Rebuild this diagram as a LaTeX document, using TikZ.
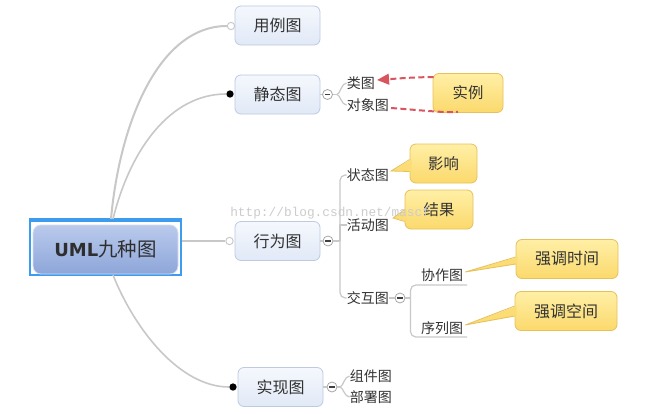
\documentclass[tikz,border=0pt]{standalone}
\usepackage{fontspec}
\newfontfamily\cjk{Noto Sans CJK SC}
\newfontfamily\umlf{DejaVu Sans}
\newfontfamily\wmf{Liberation Mono}
\usetikzlibrary{arrows.meta,calc}
\definecolor{txt}{HTML}{333333}
\definecolor{lineg}{HTML}{C8C8C8}
\definecolor{topicdraw}{HTML}{BCCAE2}
\definecolor{topictop}{HTML}{F5F8FD}
\definecolor{topicbot}{HTML}{E1E9F7}
\definecolor{calldraw}{HTML}{E6C15A}
\definecolor{calltop}{HTML}{FFEFA6}
\definecolor{callfill}{HTML}{FBD96C}
\definecolor{relred}{HTML}{D9545E}
\definecolor{frameblue}{HTML}{3D9BF0}
\definecolor{roottop}{HTML}{BACAEC}
\definecolor{rootbot}{HTML}{8DA6D9}
\definecolor{rootdraw}{HTML}{D4DEF2}
\tikzset{
  topic/.style={draw=topicdraw, line width=0.6pt, rounded corners=4.5pt,
    top color=topictop, bottom color=topicbot, minimum width=63.75pt,
    minimum height=29.25pt, inner sep=0pt, text=txt, font=\cjk\fontsize{12pt}{14pt}\selectfont},
  leaf/.style={inner sep=0pt, anchor=west, text=txt, font=\cjk\fontsize{10.5pt}{12pt}\selectfont},
  callbox/.style={draw=calldraw, line width=0.6pt, rounded corners=4.5pt,
    top color=calltop, bottom color=callfill, inner sep=0pt,
    minimum height=29.25pt, text=txt, font=\cjk\fontsize{11.5pt}{14pt}\selectfont},
  branch/.style={draw=lineg, line width=0.9pt},
  conn/.style={draw=lineg, line width=1.2pt},
  opendot/.style={circle, draw=lineg, fill=white, line width=0.7pt, minimum size=5.5pt, inner sep=0pt},
  fulldot/.style={circle, fill=black, minimum size=5.5pt, inner sep=0pt},
  collapse/.style={circle, draw=gray!70, fill=white, line width=0.6pt, minimum size=7.5pt, inner sep=0pt,
    path picture={\draw[black!75, line width=0.9pt] ([xshift=-2pt]path picture bounding box.center) -- ([xshift=2pt]path picture bounding box.center);}},
  rel/.style={draw=relred, line width=1.5pt, dash pattern=on 4.5pt off 2.5pt},
  pointer/.style={fill=callfill!85!calltop, draw=none},
  pedge/.style={draw=calldraw, line width=0.6pt}
}
\begin{document}
\begin{tikzpicture}[x=0.75pt,y=-0.75pt]
\useasboundingbox[fill=white] (0,0) rectangle (650,414);

% root
\node[draw=frameblue, line width=0.9pt, minimum width=113.25pt, minimum height=42pt, inner sep=0pt] (rootframe) at (105.5,247) {};
\fill[frameblue] (rootframe.north west) rectangle ($(rootframe.north east)+(0,4)$);
\node[rounded corners=6pt, draw=rootdraw, line width=0.6pt, top color=roottop, bottom color=rootbot,
  minimum width=108.75pt, minimum height=36.75pt, inner sep=0pt, text=black!82] (root) at (105.5,249.5)
  {{\umlf\bfseries\fontsize{13.5pt}{16pt}\selectfont UML}{\cjk\fontsize{14.6pt}{16pt}\selectfont 九种图}};

% main topics
\node[topic] (yl) at (277.5,25.5) {用例图};
\node[topic] (jt) at (277.5,94.5) {静态图};
\node[topic] (xw) at (277.5,241) {行为图};
\node[topic] (sx) at (280.5,387) {实现图};

% connector end markers
\node[opendot] (d1) at (231,26) {};
\node[fulldot] (d2) at (230,94) {};
\node[opendot] (d3) at (229.5,241) {};
\node[fulldot] (d4) at (233,387) {};

\coordinate (rt1) at (111,219);
\coordinate (rt2) at (113,219);
\coordinate (rb) at (113,275);
\draw[conn, line width=1.5pt] (rt1) .. controls (120,120) and (160,26) .. (d1.west);
\draw[conn] (rt2) .. controls (130,150) and (170,94) .. (d2.west);
\draw[conn] (rootframe.east |- d3) -- (d3.west);
\draw[conn] (rb) .. controls (135,330) and (180,387) .. (d4.west);

% collapse markers
\node[collapse] (c1) at (327.5,94.5) {};
\node[collapse] (c2) at (328,241) {};
\node[collapse] (c3) at (400,298) {};
\node[collapse] (c4) at (332,387) {};
\draw[branch] (jt.east) -- (c1.west);
\draw[branch] (xw.east) -- (c2.west);
\draw[branch] (sx.east) -- (c4.west);

% static children
\node[leaf] (lt) at (346.5,83) {类图};
\node[leaf] (dx) at (346.5,105) {对象图};
\coordinate (b1) at (337,94.5);
\draw[branch] (c1.east) -- (b1);
\draw[branch] (b1) .. controls +(3,0) and +(-5,0) .. (lt.west);
\draw[branch] (b1) .. controls +(3,0) and +(-5,0) .. (dx.west);

% behaviour children
\node[leaf] (zt) at (346.5,175) {状态图};
\node[leaf] (hd) at (346.5,225) {活动图};
\node[leaf] (jh) at (346.5,298) {交互图};
\coordinate (b2) at (340,241);
\draw[branch] (c2.east) -- (b2);
\draw[branch, rounded corners=4pt] (zt.west) -| (b2) |- (jh.west);
\draw[branch] (b2) |- (hd.west);
\draw[branch] (jh.east) -- (c3.west);

% interaction children
\node[leaf, anchor=center] (xz) at (442,275) {协作图};
\node[leaf, anchor=center] (xl) at (442,328) {序列图};
\coordinate (b3) at (410.5,298);
\coordinate (u1) at (467,285);
\coordinate (u2) at (467,337);
\draw[branch] (c3.east) -- (b3);
\draw[branch, rounded corners=4pt] (u1) -| (b3) |- (u2);

% implementation children
\node[leaf] (zj) at (349.5,376) {组件图};
\node[leaf] (bs) at (349.5,397) {部署图};
\coordinate (b4) at (340,387);
\draw[branch] (c4.east) -- (b4);
\draw[branch] (b4) .. controls +(3,0) and +(-5,0) .. (zj.west);
\draw[branch] (b4) .. controls +(3,0) and +(-5,0) .. (bs.west);

% callouts
\node[callbox, minimum width=52.5pt] (sl) at (468,93) {实例};
\node[callbox, minimum width=50.25pt] (yx) at (443.5,163.5) {影响};
\node[callbox, minimum width=51pt] (jg) at (439,209.5) {结果};
\node[callbox, minimum width=76.5pt, font=\cjk\fontsize{12pt}{14pt}\selectfont] (sj) at (567,259) {强调时间};
\node[callbox, minimum width=76.5pt, font=\cjk\fontsize{12pt}{14pt}\selectfont] (kj) at (566,311) {强调空间};

% pointers
\coordinate (p1) at ($(zt.east)+(2,-4)$);
\fill[pointer] (p1) -- ($(yx.west)+(2,-4)$) -- ($(yx.west)+(2,8)$) -- cycle;
\draw[pedge] ($(yx.west)+(0,-4)$) -- (p1) -- ($(yx.west)+(0,8)$);
\coordinate (p2) at ($(hd.east)+(4,-7)$);
\fill[pointer] (p2) -- ($(jg.west)+(2,0)$) -- ($(jg.west)+(2,12)$) -- cycle;
\draw[pedge] ($(jg.west)+(0,0)$) -- (p2) -- ($(jg.west)+(0,12)$);
\coordinate (p3) at ($(xz.east)+(2,-3)$);
\fill[pointer] (p3) -- ($(sj.west)+(2,-2)$) -- ($(sj.west)+(2,5)$) -- cycle;
\draw[pedge] ($(sj.west)+(0,-2)$) -- (p3) -- ($(sj.west)+(0,5)$);
\coordinate (p4) at ($(xl.east)+(2,-3)$);
\fill[pointer] (p4) -- ($(kj.west)+(2,-5)$) -- ($(kj.west)+(2,5)$) -- cycle;
\draw[pedge] ($(kj.west)+(0,-5)$) -- (p4) -- ($(kj.west)+(0,5)$);

% relationships
\draw[rel, -{Triangle[length=9pt,width=8pt]}] ($(sl.north west)+(1,4)$) .. controls +(-22,0) and +(15,-1) .. ($(lt.east)+(2,-3)$);
\draw[rel] ($(dx.east)+(2,3)$) .. controls +(28,2) and +(-15,1) .. ($(sl.south)+(-10,-1)$);

% watermark (on top, as in the reference)
\node[inner sep=0pt, anchor=west, text=gray!40, font=\wmf\fontsize{9.6pt}{11pt}\selectfont] (wm) at (230,213) {http://blog.csdn.net/mascf};
\end{tikzpicture}
\end{document}
